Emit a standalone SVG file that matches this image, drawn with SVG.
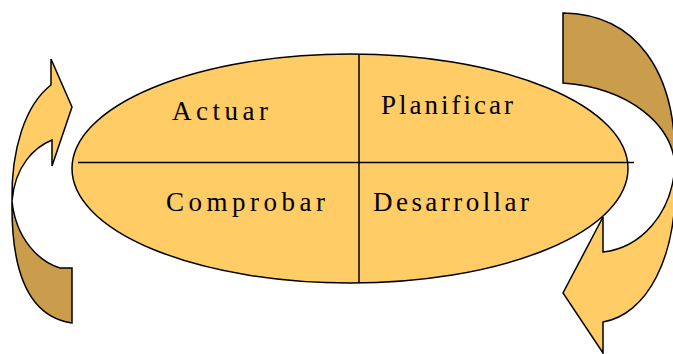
<svg xmlns="http://www.w3.org/2000/svg" width="673" height="354" viewBox="0 0 673 354">
<style>
.light{fill:#FFCC66;stroke:#000;stroke-width:1.5;stroke-linejoin:miter}
.dark{fill:#C99D4C;stroke:#000;stroke-width:1.5;stroke-linejoin:miter}
.ln{stroke:#000;stroke-width:1.5;fill:none}
.lbl{font-family:"Liberation Serif","Times New Roman",serif;font-size:27px;fill:#000}
</style>
<rect width="673" height="354" fill="#fff"/>
<g id="arrow-left">
<path class="light" d="M12,201 C11,150 25,105 51,85 L51,59 L72,107 L52,166 L52,140 C35,147 15,165 12,201 Z"/>
<path class="dark" d="M12,201 C11,275 30,317 72,323 L72,268 L60,268 C40,262 16,240 12,201 Z"/>
</g>
<g id="arrow-right">
<path class="dark" d="M563,13 C635,14 677,70 675,165 C672,125 630,88 563,83 Z"/>
<path class="light" d="M675,165 C672,215 640,248 603,252 L603,217 L563,293 L603,353 L603,322 C645,315 680,260 675,165 Z"/>
</g>
<g id="ellipse">
<ellipse class="light" cx="350" cy="168.5" rx="278" ry="114.5"/>
</g>
<g id="connectors">
<line class="ln" x1="78" y1="162.5" x2="634" y2="162.5"/>
<line class="ln" x1="359" y1="54" x2="359" y2="283"/>
</g>
<g id="actuar"><text class="lbl" x="172" y="120" textLength="96" lengthAdjust="spacing">Actuar</text></g>
<g id="planificar"><text class="lbl" x="381" y="114" textLength="132" lengthAdjust="spacing">Planificar</text></g>
<g id="comprobar"><text class="lbl" x="166" y="211" textLength="159" lengthAdjust="spacing">Comprobar</text></g>
<g id="desarrollar"><text class="lbl" x="373" y="211" textLength="156" lengthAdjust="spacing">Desarrollar</text></g>
</svg>
